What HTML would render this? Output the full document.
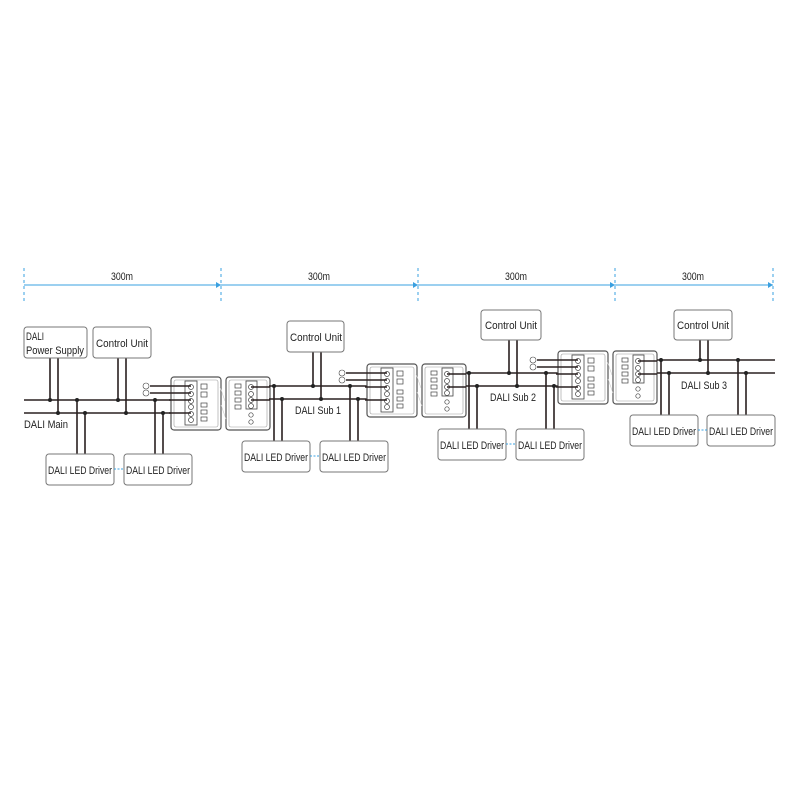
<!DOCTYPE html>
<html><head><meta charset="utf-8"><style>
html,body{margin:0;padding:0;background:#fff}
svg{display:block}
text{font-family:"Liberation Sans",sans-serif;fill:#222}
.b{fill:#fff;stroke:#777;stroke-width:1}
.w{stroke:#2a2020;stroke-width:1.6;fill:none}
.d{fill:#222}
</style></head><body>
<svg width="800" height="800" viewBox="0 0 800 800" xmlns="http://www.w3.org/2000/svg">
<defs>
<g id="dev">
  <rect x="0" y="0" width="50" height="53" rx="3" fill="#fff" stroke="#555" stroke-width="1.2"/>
  <rect x="3" y="3" width="44" height="47" rx="2" fill="none" stroke="#999" stroke-width="0.6"/>
  <rect x="14" y="4" width="12" height="44" fill="#fff" stroke="#444" stroke-width="0.8"/>
  <g fill="none" stroke="#444" stroke-width="0.7">
    <circle cx="20" cy="10" r="2.5"/><circle cx="20" cy="17" r="2.5"/><circle cx="20" cy="24" r="2.5"/><circle cx="20" cy="30" r="2.5"/><circle cx="20" cy="37" r="2.5"/><circle cx="20" cy="43" r="2.5"/>
    <rect x="30" y="7" width="6" height="5"/><rect x="30" y="15" width="6" height="5"/>
    <rect x="30" y="26" width="6" height="4"/><rect x="30" y="33" width="6" height="4"/><rect x="30" y="40" width="6" height="4"/>
  </g>
  <rect x="55" y="0" width="44" height="53" rx="3" fill="#fff" stroke="#555" stroke-width="1.2"/>
  <rect x="58" y="3" width="38" height="47" rx="2" fill="none" stroke="#999" stroke-width="0.6"/>
  <rect x="75" y="4" width="11" height="28" fill="#fff" stroke="#444" stroke-width="0.8"/>
  <g fill="none" stroke="#444" stroke-width="0.7">
    <circle cx="80" cy="10" r="2.5"/><circle cx="80" cy="17" r="2.5"/><circle cx="80" cy="23" r="2.5"/><circle cx="80" cy="29" r="2.5"/>
    <circle cx="80" cy="38" r="2.2"/><circle cx="80" cy="45" r="2.2"/>
    <rect x="64" y="7" width="6" height="4"/><rect x="64" y="14" width="6" height="4"/><rect x="64" y="21" width="6" height="4"/><rect x="64" y="28" width="6" height="4"/>
  </g>
  <path d="M49 10 L54 24 M50 28 L55 42" stroke="#ccc" stroke-width="0.6"/>
  <circle cx="-25" cy="9" r="3" fill="#fff" stroke="#444" stroke-width="0.6"/>
  <circle cx="-25" cy="16" r="3" fill="#fff" stroke="#444" stroke-width="0.6"/>
  <path class="w" d="M-21 9 H20 M-21 16 H20 M-2 23 H20 M-2 36 H20 M80 10 H99 M80 23 H99"/>
</g>
</defs>

<g stroke="#3aa0e0" stroke-width="1">
  <path d="M24 285 H773"/>
  <path d="M24 268 V303 M221 268 V303 M418 268 V303 M615 268 V303 M773 268 V303" stroke-dasharray="3,3"/>
</g>
<g fill="#3aa0e0"><path d="M221 285 l-5 -3 v6z"/><path d="M418 285 l-5 -3 v6z"/><path d="M615 285 l-5 -3 v6z"/><path d="M773 285 l-5 -3 v6z"/></g>
<g font-size="11" text-anchor="middle"><text x="122" y="280" textLength="22" lengthAdjust="spacingAndGlyphs">300m</text><text x="319" y="280" textLength="22" lengthAdjust="spacingAndGlyphs">300m</text><text x="516" y="280" textLength="22" lengthAdjust="spacingAndGlyphs">300m</text><text x="693" y="280" textLength="22" lengthAdjust="spacingAndGlyphs">300m</text></g>

<!-- Main -->
<path class="w" d="M24 400 H171 M24 413 H171"/>
<path class="w" d="M50 358 V400 M58 358 V413 M118 358 V400 M126 358 V413 M77 400 V454 M85 413 V454 M155 400 V454 M163 413 V454"/>
<rect class="b" x="24" y="327" width="63" height="31" rx="3"/>
<text x="26" y="340" font-size="11" textLength="18" lengthAdjust="spacingAndGlyphs">DALI</text><text x="26" y="354" font-size="11" textLength="58" lengthAdjust="spacingAndGlyphs">Power Supply</text>
<rect class="b" x="93" y="327" width="58" height="31" rx="3"/>
<text x="96" y="347" font-size="11" textLength="52" lengthAdjust="spacingAndGlyphs">Control Unit</text>
<text x="24" y="428" font-size="11" textLength="44" lengthAdjust="spacingAndGlyphs">DALI Main</text>
<rect class="b" x="46" y="454" width="68" height="31" rx="3"/>
<rect class="b" x="124" y="454" width="68" height="31" rx="3"/>
<text x="48" y="474" font-size="11" textLength="64" lengthAdjust="spacingAndGlyphs">DALI LED Driver</text>
<text x="126" y="474" font-size="11" textLength="64" lengthAdjust="spacingAndGlyphs">DALI LED Driver</text>
<path d="M114 469 H124" stroke="#3aa0e0" stroke-dasharray="2,1.5"/>
<g class="d"><circle cx="50" cy="400" r="2"/><circle cx="58" cy="413" r="2"/><circle cx="118" cy="400" r="2"/><circle cx="126" cy="413" r="2"/><circle cx="77" cy="400" r="2"/><circle cx="85" cy="413" r="2"/><circle cx="155" cy="400" r="2"/><circle cx="163" cy="413" r="2"/></g>
<use href="#dev" x="171" y="377"/>

<!-- Sub 1 -->
<path class="w" d="M269 386 H367 M269 399 H367"/>
<path class="w" d="M313 352 V386 M321 352 V399 M274 386 V441 M282 399 V441 M350 386 V441 M358 399 V441"/>
<rect class="b" x="287" y="321" width="57" height="31" rx="3"/>
<text x="290" y="341" font-size="11" textLength="52" lengthAdjust="spacingAndGlyphs">Control Unit</text>
<text x="295" y="414" font-size="11" textLength="46" lengthAdjust="spacingAndGlyphs">DALI Sub 1</text>
<rect class="b" x="242" y="441" width="68" height="31" rx="3"/>
<rect class="b" x="320" y="441" width="68" height="31" rx="3"/>
<text x="244" y="461" font-size="11" textLength="64" lengthAdjust="spacingAndGlyphs">DALI LED Driver</text>
<text x="322" y="461" font-size="11" textLength="64" lengthAdjust="spacingAndGlyphs">DALI LED Driver</text>
<path d="M310 456 H320" stroke="#3aa0e0" stroke-dasharray="2,1.5"/>
<g class="d"><circle cx="313" cy="386" r="2"/><circle cx="321" cy="399" r="2"/><circle cx="274" cy="386" r="2"/><circle cx="282" cy="399" r="2"/><circle cx="350" cy="386" r="2"/><circle cx="358" cy="399" r="2"/></g>
<use href="#dev" x="367" y="364"/>

<!-- Sub 2 -->
<path class="w" d="M466 373 H558 M466 386 H558"/>
<path class="w" d="M509 340 V373 M517 340 V386 M469 373 V429 M477 386 V429 M546 373 V429 M554 386 V429"/>
<rect class="b" x="481" y="310" width="60" height="30" rx="3"/>
<text x="485" y="329" font-size="11" textLength="52" lengthAdjust="spacingAndGlyphs">Control Unit</text>
<text x="490" y="401" font-size="11" textLength="46" lengthAdjust="spacingAndGlyphs">DALI Sub 2</text>
<rect class="b" x="438" y="429" width="68" height="31" rx="3"/>
<rect class="b" x="516" y="429" width="68" height="31" rx="3"/>
<text x="440" y="449" font-size="11" textLength="64" lengthAdjust="spacingAndGlyphs">DALI LED Driver</text>
<text x="518" y="449" font-size="11" textLength="64" lengthAdjust="spacingAndGlyphs">DALI LED Driver</text>
<path d="M506 444 H516" stroke="#3aa0e0" stroke-dasharray="2,1.5"/>
<g class="d"><circle cx="509" cy="373" r="2"/><circle cx="517" cy="386" r="2"/><circle cx="469" cy="373" r="2"/><circle cx="477" cy="386" r="2"/><circle cx="546" cy="373" r="2"/><circle cx="554" cy="386" r="2"/></g>
<use href="#dev" x="558" y="351"/>

<!-- Sub 3 -->
<path class="w" d="M657 360 H775 M657 373 H775"/>
<path class="w" d="M700 340 V360 M708 340 V373 M661 360 V415 M669 373 V415 M738 360 V415 M746 373 V415"/>
<rect class="b" x="674" y="310" width="58" height="30" rx="3"/>
<text x="677" y="329" font-size="11" textLength="52" lengthAdjust="spacingAndGlyphs">Control Unit</text>
<text x="681" y="389" font-size="11" textLength="46" lengthAdjust="spacingAndGlyphs">DALI Sub 3</text>
<rect class="b" x="630" y="415" width="68" height="31" rx="3"/>
<rect class="b" x="707" y="415" width="68" height="31" rx="3"/>
<text x="632" y="435" font-size="11" textLength="64" lengthAdjust="spacingAndGlyphs">DALI LED Driver</text>
<text x="709" y="435" font-size="11" textLength="64" lengthAdjust="spacingAndGlyphs">DALI LED Driver</text>
<path d="M698 430 H707" stroke="#3aa0e0" stroke-dasharray="2,1.5"/>
<g class="d"><circle cx="700" cy="360" r="2"/><circle cx="708" cy="373" r="2"/><circle cx="661" cy="360" r="2"/><circle cx="669" cy="373" r="2"/><circle cx="738" cy="360" r="2"/><circle cx="746" cy="373" r="2"/></g>
</svg>
</body></html>
